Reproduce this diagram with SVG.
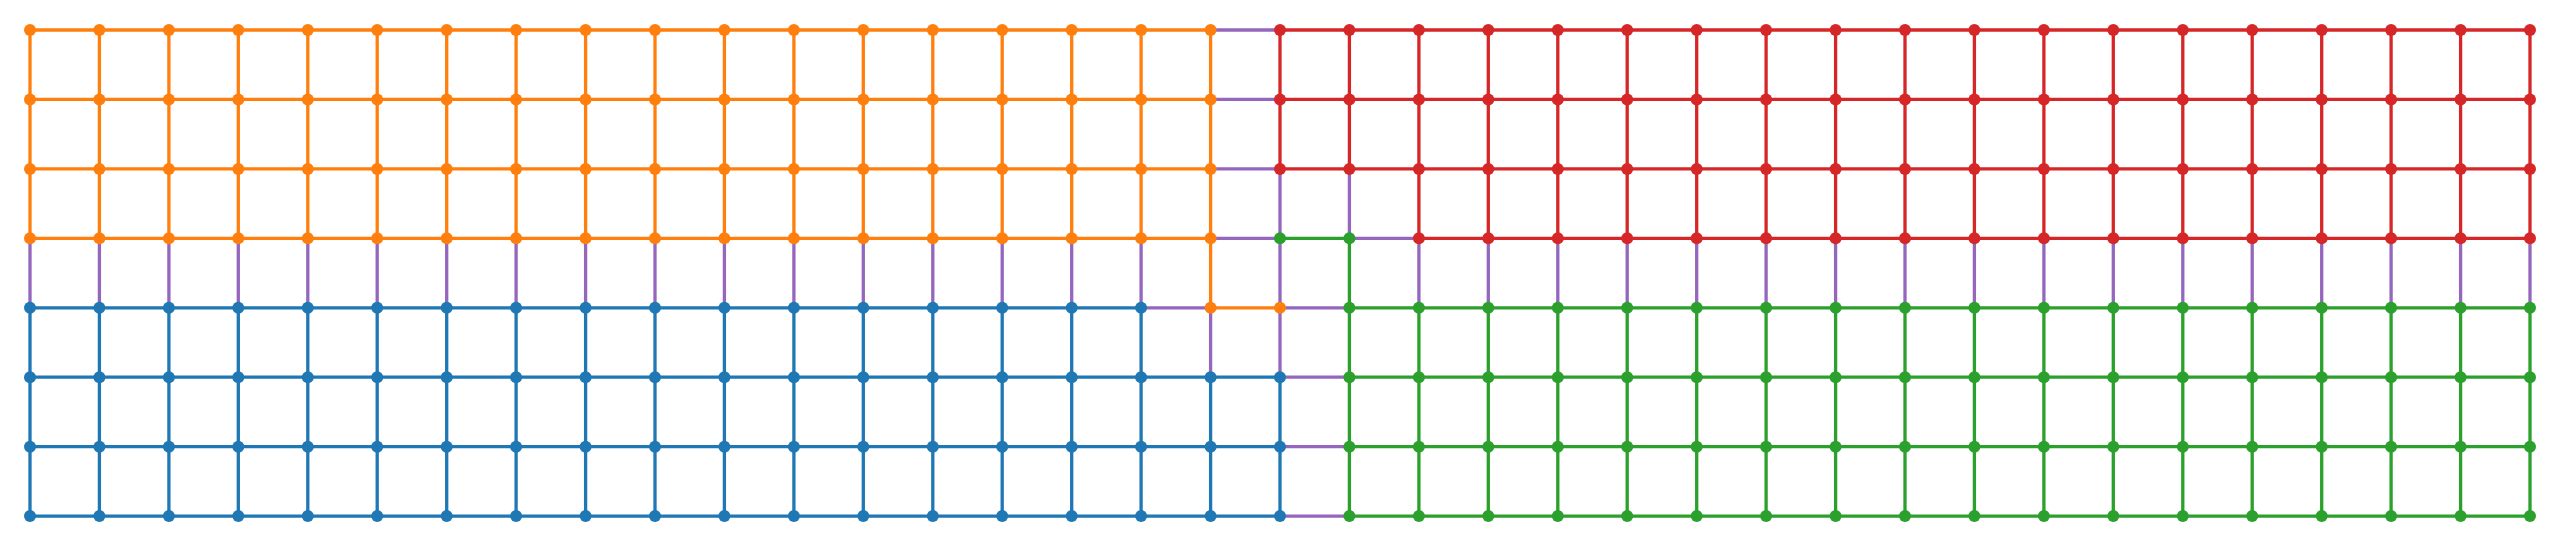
<svg xmlns="http://www.w3.org/2000/svg" width="2561" height="547" viewBox="0 0 2561 547">
<style>
.e{fill:none;stroke-width:3.3}
.eo{stroke:#ff7f0e}.er{stroke:#d62728}.eg{stroke:#2ca02c}.eb{stroke:#1f77b4}.ep{stroke:#9467bd}
.o{fill:#ff7f0e}.r{fill:#d62728}.g{fill:#2ca02c}.b{fill:#1f77b4}
</style>
<rect width="2561" height="547" fill="#fff"/>
<g id="connectors">
<path class="e ep" d="M1210.6 30H1280M1210.6 99.4H1280M1210.6 168.9H1280M1210.6 238.3H1280M1349.4 238.3H1418.9M1141.1 307.8H1210.6M1280 307.8H1349.4M1280 377.2H1349.4M1280 446.7H1349.4M1280 516.1H1349.4
M30 238.3V307.8M99.4 238.3V307.8M168.9 238.3V307.8M238.3 238.3V307.8M307.8 238.3V307.8M377.2 238.3V307.8M446.7 238.3V307.8M516.1 238.3V307.8M585.6 238.3V307.8M655 238.3V307.8M724.4 238.3V307.8M793.9 238.3V307.8M863.3 238.3V307.8M932.8 238.3V307.8M1002.2 238.3V307.8M1071.7 238.3V307.8M1141.1 238.3V307.8
M1210.6 307.8V377.2M1280 168.9V377.2M1349.4 168.9V238.3
M1418.9 238.3V307.8M1488.3 238.3V307.8M1557.8 238.3V307.8M1627.2 238.3V307.8M1696.7 238.3V307.8M1766.1 238.3V307.8M1835.6 238.3V307.8M1905 238.3V307.8M1974.4 238.3V307.8M2043.9 238.3V307.8M2113.3 238.3V307.8M2182.8 238.3V307.8M2252.2 238.3V307.8M2321.7 238.3V307.8M2391.1 238.3V307.8M2460.6 238.3V307.8M2530 238.3V307.8"/>
<path class="e eo" d="M30 30H1210.6M30 99.4H1210.6M30 168.9H1210.6M30 238.3H1210.6M1210.6 307.8H1280
M30 30V238.3M99.4 30V238.3M168.9 30V238.3M238.3 30V238.3M307.8 30V238.3M377.2 30V238.3M446.7 30V238.3M516.1 30V238.3M585.6 30V238.3M655 30V238.3M724.4 30V238.3M793.9 30V238.3M863.3 30V238.3M932.8 30V238.3M1002.2 30V238.3M1071.7 30V238.3M1141.1 30V238.3M1210.6 30V307.8"/>
<path class="e er" d="M1280 30H2530M1280 99.4H2530M1280 168.9H2530M1418.9 238.3H2530
M1280 30V168.9M1349.4 30V168.9M1418.9 30V238.3M1488.3 30V238.3M1557.8 30V238.3M1627.2 30V238.3M1696.7 30V238.3M1766.1 30V238.3M1835.6 30V238.3M1905 30V238.3M1974.4 30V238.3M2043.9 30V238.3M2113.3 30V238.3M2182.8 30V238.3M2252.2 30V238.3M2321.7 30V238.3M2391.1 30V238.3M2460.6 30V238.3M2530 30V238.3"/>
<path class="e eg" d="M1280 238.3H1349.4M1349.4 307.8H2530M1349.4 377.2H2530M1349.4 446.7H2530M1349.4 516.1H2530
M1349.4 238.3V516.1M1418.9 307.8V516.1M1488.3 307.8V516.1M1557.8 307.8V516.1M1627.2 307.8V516.1M1696.7 307.8V516.1M1766.1 307.8V516.1M1835.6 307.8V516.1M1905 307.8V516.1M1974.4 307.8V516.1M2043.9 307.8V516.1M2113.3 307.8V516.1M2182.8 307.8V516.1M2252.2 307.8V516.1M2321.7 307.8V516.1M2391.1 307.8V516.1M2460.6 307.8V516.1M2530 307.8V516.1"/>
<path class="e eb" d="M30 307.8H1141.1M30 377.2H1280M30 446.7H1280M30 516.1H1280
M30 307.8V516.1M99.4 307.8V516.1M168.9 307.8V516.1M238.3 307.8V516.1M307.8 307.8V516.1M377.2 307.8V516.1M446.7 307.8V516.1M516.1 307.8V516.1M585.6 307.8V516.1M655 307.8V516.1M724.4 307.8V516.1M793.9 307.8V516.1M863.3 307.8V516.1M932.8 307.8V516.1M1002.2 307.8V516.1M1071.7 307.8V516.1M1141.1 307.8V516.1M1210.6 377.2V516.1M1280 377.2V516.1"/>
</g>
<g id="nodes">
<g id="n0-0" class="o"><circle cx="30" cy="30" r="6"/></g>
<g id="n0-1" class="o"><circle cx="99.4" cy="30" r="6"/></g>
<g id="n0-2" class="o"><circle cx="168.9" cy="30" r="6"/></g>
<g id="n0-3" class="o"><circle cx="238.3" cy="30" r="6"/></g>
<g id="n0-4" class="o"><circle cx="307.8" cy="30" r="6"/></g>
<g id="n0-5" class="o"><circle cx="377.2" cy="30" r="6"/></g>
<g id="n0-6" class="o"><circle cx="446.7" cy="30" r="6"/></g>
<g id="n0-7" class="o"><circle cx="516.1" cy="30" r="6"/></g>
<g id="n0-8" class="o"><circle cx="585.6" cy="30" r="6"/></g>
<g id="n0-9" class="o"><circle cx="655" cy="30" r="6"/></g>
<g id="n0-10" class="o"><circle cx="724.4" cy="30" r="6"/></g>
<g id="n0-11" class="o"><circle cx="793.9" cy="30" r="6"/></g>
<g id="n0-12" class="o"><circle cx="863.3" cy="30" r="6"/></g>
<g id="n0-13" class="o"><circle cx="932.8" cy="30" r="6"/></g>
<g id="n0-14" class="o"><circle cx="1002.2" cy="30" r="6"/></g>
<g id="n0-15" class="o"><circle cx="1071.7" cy="30" r="6"/></g>
<g id="n0-16" class="o"><circle cx="1141.1" cy="30" r="6"/></g>
<g id="n0-17" class="o"><circle cx="1210.6" cy="30" r="6"/></g>
<g id="n0-18" class="r"><circle cx="1280" cy="30" r="6"/></g>
<g id="n0-19" class="r"><circle cx="1349.4" cy="30" r="6"/></g>
<g id="n0-20" class="r"><circle cx="1418.9" cy="30" r="6"/></g>
<g id="n0-21" class="r"><circle cx="1488.3" cy="30" r="6"/></g>
<g id="n0-22" class="r"><circle cx="1557.8" cy="30" r="6"/></g>
<g id="n0-23" class="r"><circle cx="1627.2" cy="30" r="6"/></g>
<g id="n0-24" class="r"><circle cx="1696.7" cy="30" r="6"/></g>
<g id="n0-25" class="r"><circle cx="1766.1" cy="30" r="6"/></g>
<g id="n0-26" class="r"><circle cx="1835.6" cy="30" r="6"/></g>
<g id="n0-27" class="r"><circle cx="1905" cy="30" r="6"/></g>
<g id="n0-28" class="r"><circle cx="1974.4" cy="30" r="6"/></g>
<g id="n0-29" class="r"><circle cx="2043.9" cy="30" r="6"/></g>
<g id="n0-30" class="r"><circle cx="2113.3" cy="30" r="6"/></g>
<g id="n0-31" class="r"><circle cx="2182.8" cy="30" r="6"/></g>
<g id="n0-32" class="r"><circle cx="2252.2" cy="30" r="6"/></g>
<g id="n0-33" class="r"><circle cx="2321.7" cy="30" r="6"/></g>
<g id="n0-34" class="r"><circle cx="2391.1" cy="30" r="6"/></g>
<g id="n0-35" class="r"><circle cx="2460.6" cy="30" r="6"/></g>
<g id="n0-36" class="r"><circle cx="2530" cy="30" r="6"/></g>
<g id="n1-0" class="o"><circle cx="30" cy="99.4" r="6"/></g>
<g id="n1-1" class="o"><circle cx="99.4" cy="99.4" r="6"/></g>
<g id="n1-2" class="o"><circle cx="168.9" cy="99.4" r="6"/></g>
<g id="n1-3" class="o"><circle cx="238.3" cy="99.4" r="6"/></g>
<g id="n1-4" class="o"><circle cx="307.8" cy="99.4" r="6"/></g>
<g id="n1-5" class="o"><circle cx="377.2" cy="99.4" r="6"/></g>
<g id="n1-6" class="o"><circle cx="446.7" cy="99.4" r="6"/></g>
<g id="n1-7" class="o"><circle cx="516.1" cy="99.4" r="6"/></g>
<g id="n1-8" class="o"><circle cx="585.6" cy="99.4" r="6"/></g>
<g id="n1-9" class="o"><circle cx="655" cy="99.4" r="6"/></g>
<g id="n1-10" class="o"><circle cx="724.4" cy="99.4" r="6"/></g>
<g id="n1-11" class="o"><circle cx="793.9" cy="99.4" r="6"/></g>
<g id="n1-12" class="o"><circle cx="863.3" cy="99.4" r="6"/></g>
<g id="n1-13" class="o"><circle cx="932.8" cy="99.4" r="6"/></g>
<g id="n1-14" class="o"><circle cx="1002.2" cy="99.4" r="6"/></g>
<g id="n1-15" class="o"><circle cx="1071.7" cy="99.4" r="6"/></g>
<g id="n1-16" class="o"><circle cx="1141.1" cy="99.4" r="6"/></g>
<g id="n1-17" class="o"><circle cx="1210.6" cy="99.4" r="6"/></g>
<g id="n1-18" class="r"><circle cx="1280" cy="99.4" r="6"/></g>
<g id="n1-19" class="r"><circle cx="1349.4" cy="99.4" r="6"/></g>
<g id="n1-20" class="r"><circle cx="1418.9" cy="99.4" r="6"/></g>
<g id="n1-21" class="r"><circle cx="1488.3" cy="99.4" r="6"/></g>
<g id="n1-22" class="r"><circle cx="1557.8" cy="99.4" r="6"/></g>
<g id="n1-23" class="r"><circle cx="1627.2" cy="99.4" r="6"/></g>
<g id="n1-24" class="r"><circle cx="1696.7" cy="99.4" r="6"/></g>
<g id="n1-25" class="r"><circle cx="1766.1" cy="99.4" r="6"/></g>
<g id="n1-26" class="r"><circle cx="1835.6" cy="99.4" r="6"/></g>
<g id="n1-27" class="r"><circle cx="1905" cy="99.4" r="6"/></g>
<g id="n1-28" class="r"><circle cx="1974.4" cy="99.4" r="6"/></g>
<g id="n1-29" class="r"><circle cx="2043.9" cy="99.4" r="6"/></g>
<g id="n1-30" class="r"><circle cx="2113.3" cy="99.4" r="6"/></g>
<g id="n1-31" class="r"><circle cx="2182.8" cy="99.4" r="6"/></g>
<g id="n1-32" class="r"><circle cx="2252.2" cy="99.4" r="6"/></g>
<g id="n1-33" class="r"><circle cx="2321.7" cy="99.4" r="6"/></g>
<g id="n1-34" class="r"><circle cx="2391.1" cy="99.4" r="6"/></g>
<g id="n1-35" class="r"><circle cx="2460.6" cy="99.4" r="6"/></g>
<g id="n1-36" class="r"><circle cx="2530" cy="99.4" r="6"/></g>
<g id="n2-0" class="o"><circle cx="30" cy="168.9" r="6"/></g>
<g id="n2-1" class="o"><circle cx="99.4" cy="168.9" r="6"/></g>
<g id="n2-2" class="o"><circle cx="168.9" cy="168.9" r="6"/></g>
<g id="n2-3" class="o"><circle cx="238.3" cy="168.9" r="6"/></g>
<g id="n2-4" class="o"><circle cx="307.8" cy="168.9" r="6"/></g>
<g id="n2-5" class="o"><circle cx="377.2" cy="168.9" r="6"/></g>
<g id="n2-6" class="o"><circle cx="446.7" cy="168.9" r="6"/></g>
<g id="n2-7" class="o"><circle cx="516.1" cy="168.9" r="6"/></g>
<g id="n2-8" class="o"><circle cx="585.6" cy="168.9" r="6"/></g>
<g id="n2-9" class="o"><circle cx="655" cy="168.9" r="6"/></g>
<g id="n2-10" class="o"><circle cx="724.4" cy="168.9" r="6"/></g>
<g id="n2-11" class="o"><circle cx="793.9" cy="168.9" r="6"/></g>
<g id="n2-12" class="o"><circle cx="863.3" cy="168.9" r="6"/></g>
<g id="n2-13" class="o"><circle cx="932.8" cy="168.9" r="6"/></g>
<g id="n2-14" class="o"><circle cx="1002.2" cy="168.9" r="6"/></g>
<g id="n2-15" class="o"><circle cx="1071.7" cy="168.9" r="6"/></g>
<g id="n2-16" class="o"><circle cx="1141.1" cy="168.9" r="6"/></g>
<g id="n2-17" class="o"><circle cx="1210.6" cy="168.9" r="6"/></g>
<g id="n2-18" class="r"><circle cx="1280" cy="168.9" r="6"/></g>
<g id="n2-19" class="r"><circle cx="1349.4" cy="168.9" r="6"/></g>
<g id="n2-20" class="r"><circle cx="1418.9" cy="168.9" r="6"/></g>
<g id="n2-21" class="r"><circle cx="1488.3" cy="168.9" r="6"/></g>
<g id="n2-22" class="r"><circle cx="1557.8" cy="168.9" r="6"/></g>
<g id="n2-23" class="r"><circle cx="1627.2" cy="168.9" r="6"/></g>
<g id="n2-24" class="r"><circle cx="1696.7" cy="168.9" r="6"/></g>
<g id="n2-25" class="r"><circle cx="1766.1" cy="168.9" r="6"/></g>
<g id="n2-26" class="r"><circle cx="1835.6" cy="168.9" r="6"/></g>
<g id="n2-27" class="r"><circle cx="1905" cy="168.9" r="6"/></g>
<g id="n2-28" class="r"><circle cx="1974.4" cy="168.9" r="6"/></g>
<g id="n2-29" class="r"><circle cx="2043.9" cy="168.9" r="6"/></g>
<g id="n2-30" class="r"><circle cx="2113.3" cy="168.9" r="6"/></g>
<g id="n2-31" class="r"><circle cx="2182.8" cy="168.9" r="6"/></g>
<g id="n2-32" class="r"><circle cx="2252.2" cy="168.9" r="6"/></g>
<g id="n2-33" class="r"><circle cx="2321.7" cy="168.9" r="6"/></g>
<g id="n2-34" class="r"><circle cx="2391.1" cy="168.9" r="6"/></g>
<g id="n2-35" class="r"><circle cx="2460.6" cy="168.9" r="6"/></g>
<g id="n2-36" class="r"><circle cx="2530" cy="168.9" r="6"/></g>
<g id="n3-0" class="o"><circle cx="30" cy="238.3" r="6"/></g>
<g id="n3-1" class="o"><circle cx="99.4" cy="238.3" r="6"/></g>
<g id="n3-2" class="o"><circle cx="168.9" cy="238.3" r="6"/></g>
<g id="n3-3" class="o"><circle cx="238.3" cy="238.3" r="6"/></g>
<g id="n3-4" class="o"><circle cx="307.8" cy="238.3" r="6"/></g>
<g id="n3-5" class="o"><circle cx="377.2" cy="238.3" r="6"/></g>
<g id="n3-6" class="o"><circle cx="446.7" cy="238.3" r="6"/></g>
<g id="n3-7" class="o"><circle cx="516.1" cy="238.3" r="6"/></g>
<g id="n3-8" class="o"><circle cx="585.6" cy="238.3" r="6"/></g>
<g id="n3-9" class="o"><circle cx="655" cy="238.3" r="6"/></g>
<g id="n3-10" class="o"><circle cx="724.4" cy="238.3" r="6"/></g>
<g id="n3-11" class="o"><circle cx="793.9" cy="238.3" r="6"/></g>
<g id="n3-12" class="o"><circle cx="863.3" cy="238.3" r="6"/></g>
<g id="n3-13" class="o"><circle cx="932.8" cy="238.3" r="6"/></g>
<g id="n3-14" class="o"><circle cx="1002.2" cy="238.3" r="6"/></g>
<g id="n3-15" class="o"><circle cx="1071.7" cy="238.3" r="6"/></g>
<g id="n3-16" class="o"><circle cx="1141.1" cy="238.3" r="6"/></g>
<g id="n3-17" class="o"><circle cx="1210.6" cy="238.3" r="6"/></g>
<g id="n3-18" class="g"><circle cx="1280" cy="238.3" r="6"/></g>
<g id="n3-19" class="g"><circle cx="1349.4" cy="238.3" r="6"/></g>
<g id="n3-20" class="r"><circle cx="1418.9" cy="238.3" r="6"/></g>
<g id="n3-21" class="r"><circle cx="1488.3" cy="238.3" r="6"/></g>
<g id="n3-22" class="r"><circle cx="1557.8" cy="238.3" r="6"/></g>
<g id="n3-23" class="r"><circle cx="1627.2" cy="238.3" r="6"/></g>
<g id="n3-24" class="r"><circle cx="1696.7" cy="238.3" r="6"/></g>
<g id="n3-25" class="r"><circle cx="1766.1" cy="238.3" r="6"/></g>
<g id="n3-26" class="r"><circle cx="1835.6" cy="238.3" r="6"/></g>
<g id="n3-27" class="r"><circle cx="1905" cy="238.3" r="6"/></g>
<g id="n3-28" class="r"><circle cx="1974.4" cy="238.3" r="6"/></g>
<g id="n3-29" class="r"><circle cx="2043.9" cy="238.3" r="6"/></g>
<g id="n3-30" class="r"><circle cx="2113.3" cy="238.3" r="6"/></g>
<g id="n3-31" class="r"><circle cx="2182.8" cy="238.3" r="6"/></g>
<g id="n3-32" class="r"><circle cx="2252.2" cy="238.3" r="6"/></g>
<g id="n3-33" class="r"><circle cx="2321.7" cy="238.3" r="6"/></g>
<g id="n3-34" class="r"><circle cx="2391.1" cy="238.3" r="6"/></g>
<g id="n3-35" class="r"><circle cx="2460.6" cy="238.3" r="6"/></g>
<g id="n3-36" class="r"><circle cx="2530" cy="238.3" r="6"/></g>
<g id="n4-0" class="b"><circle cx="30" cy="307.8" r="6"/></g>
<g id="n4-1" class="b"><circle cx="99.4" cy="307.8" r="6"/></g>
<g id="n4-2" class="b"><circle cx="168.9" cy="307.8" r="6"/></g>
<g id="n4-3" class="b"><circle cx="238.3" cy="307.8" r="6"/></g>
<g id="n4-4" class="b"><circle cx="307.8" cy="307.8" r="6"/></g>
<g id="n4-5" class="b"><circle cx="377.2" cy="307.8" r="6"/></g>
<g id="n4-6" class="b"><circle cx="446.7" cy="307.8" r="6"/></g>
<g id="n4-7" class="b"><circle cx="516.1" cy="307.8" r="6"/></g>
<g id="n4-8" class="b"><circle cx="585.6" cy="307.8" r="6"/></g>
<g id="n4-9" class="b"><circle cx="655" cy="307.8" r="6"/></g>
<g id="n4-10" class="b"><circle cx="724.4" cy="307.8" r="6"/></g>
<g id="n4-11" class="b"><circle cx="793.9" cy="307.8" r="6"/></g>
<g id="n4-12" class="b"><circle cx="863.3" cy="307.8" r="6"/></g>
<g id="n4-13" class="b"><circle cx="932.8" cy="307.8" r="6"/></g>
<g id="n4-14" class="b"><circle cx="1002.2" cy="307.8" r="6"/></g>
<g id="n4-15" class="b"><circle cx="1071.7" cy="307.8" r="6"/></g>
<g id="n4-16" class="b"><circle cx="1141.1" cy="307.8" r="6"/></g>
<g id="n4-17" class="o"><circle cx="1210.6" cy="307.8" r="6"/></g>
<g id="n4-18" class="o"><circle cx="1280" cy="307.8" r="6"/></g>
<g id="n4-19" class="g"><circle cx="1349.4" cy="307.8" r="6"/></g>
<g id="n4-20" class="g"><circle cx="1418.9" cy="307.8" r="6"/></g>
<g id="n4-21" class="g"><circle cx="1488.3" cy="307.8" r="6"/></g>
<g id="n4-22" class="g"><circle cx="1557.8" cy="307.8" r="6"/></g>
<g id="n4-23" class="g"><circle cx="1627.2" cy="307.8" r="6"/></g>
<g id="n4-24" class="g"><circle cx="1696.7" cy="307.8" r="6"/></g>
<g id="n4-25" class="g"><circle cx="1766.1" cy="307.8" r="6"/></g>
<g id="n4-26" class="g"><circle cx="1835.6" cy="307.8" r="6"/></g>
<g id="n4-27" class="g"><circle cx="1905" cy="307.8" r="6"/></g>
<g id="n4-28" class="g"><circle cx="1974.4" cy="307.8" r="6"/></g>
<g id="n4-29" class="g"><circle cx="2043.9" cy="307.8" r="6"/></g>
<g id="n4-30" class="g"><circle cx="2113.3" cy="307.8" r="6"/></g>
<g id="n4-31" class="g"><circle cx="2182.8" cy="307.8" r="6"/></g>
<g id="n4-32" class="g"><circle cx="2252.2" cy="307.8" r="6"/></g>
<g id="n4-33" class="g"><circle cx="2321.7" cy="307.8" r="6"/></g>
<g id="n4-34" class="g"><circle cx="2391.1" cy="307.8" r="6"/></g>
<g id="n4-35" class="g"><circle cx="2460.6" cy="307.8" r="6"/></g>
<g id="n4-36" class="g"><circle cx="2530" cy="307.8" r="6"/></g>
<g id="n5-0" class="b"><circle cx="30" cy="377.2" r="6"/></g>
<g id="n5-1" class="b"><circle cx="99.4" cy="377.2" r="6"/></g>
<g id="n5-2" class="b"><circle cx="168.9" cy="377.2" r="6"/></g>
<g id="n5-3" class="b"><circle cx="238.3" cy="377.2" r="6"/></g>
<g id="n5-4" class="b"><circle cx="307.8" cy="377.2" r="6"/></g>
<g id="n5-5" class="b"><circle cx="377.2" cy="377.2" r="6"/></g>
<g id="n5-6" class="b"><circle cx="446.7" cy="377.2" r="6"/></g>
<g id="n5-7" class="b"><circle cx="516.1" cy="377.2" r="6"/></g>
<g id="n5-8" class="b"><circle cx="585.6" cy="377.2" r="6"/></g>
<g id="n5-9" class="b"><circle cx="655" cy="377.2" r="6"/></g>
<g id="n5-10" class="b"><circle cx="724.4" cy="377.2" r="6"/></g>
<g id="n5-11" class="b"><circle cx="793.9" cy="377.2" r="6"/></g>
<g id="n5-12" class="b"><circle cx="863.3" cy="377.2" r="6"/></g>
<g id="n5-13" class="b"><circle cx="932.8" cy="377.2" r="6"/></g>
<g id="n5-14" class="b"><circle cx="1002.2" cy="377.2" r="6"/></g>
<g id="n5-15" class="b"><circle cx="1071.7" cy="377.2" r="6"/></g>
<g id="n5-16" class="b"><circle cx="1141.1" cy="377.2" r="6"/></g>
<g id="n5-17" class="b"><circle cx="1210.6" cy="377.2" r="6"/></g>
<g id="n5-18" class="b"><circle cx="1280" cy="377.2" r="6"/></g>
<g id="n5-19" class="g"><circle cx="1349.4" cy="377.2" r="6"/></g>
<g id="n5-20" class="g"><circle cx="1418.9" cy="377.2" r="6"/></g>
<g id="n5-21" class="g"><circle cx="1488.3" cy="377.2" r="6"/></g>
<g id="n5-22" class="g"><circle cx="1557.8" cy="377.2" r="6"/></g>
<g id="n5-23" class="g"><circle cx="1627.2" cy="377.2" r="6"/></g>
<g id="n5-24" class="g"><circle cx="1696.7" cy="377.2" r="6"/></g>
<g id="n5-25" class="g"><circle cx="1766.1" cy="377.2" r="6"/></g>
<g id="n5-26" class="g"><circle cx="1835.6" cy="377.2" r="6"/></g>
<g id="n5-27" class="g"><circle cx="1905" cy="377.2" r="6"/></g>
<g id="n5-28" class="g"><circle cx="1974.4" cy="377.2" r="6"/></g>
<g id="n5-29" class="g"><circle cx="2043.9" cy="377.2" r="6"/></g>
<g id="n5-30" class="g"><circle cx="2113.3" cy="377.2" r="6"/></g>
<g id="n5-31" class="g"><circle cx="2182.8" cy="377.2" r="6"/></g>
<g id="n5-32" class="g"><circle cx="2252.2" cy="377.2" r="6"/></g>
<g id="n5-33" class="g"><circle cx="2321.7" cy="377.2" r="6"/></g>
<g id="n5-34" class="g"><circle cx="2391.1" cy="377.2" r="6"/></g>
<g id="n5-35" class="g"><circle cx="2460.6" cy="377.2" r="6"/></g>
<g id="n5-36" class="g"><circle cx="2530" cy="377.2" r="6"/></g>
<g id="n6-0" class="b"><circle cx="30" cy="446.7" r="6"/></g>
<g id="n6-1" class="b"><circle cx="99.4" cy="446.7" r="6"/></g>
<g id="n6-2" class="b"><circle cx="168.9" cy="446.7" r="6"/></g>
<g id="n6-3" class="b"><circle cx="238.3" cy="446.7" r="6"/></g>
<g id="n6-4" class="b"><circle cx="307.8" cy="446.7" r="6"/></g>
<g id="n6-5" class="b"><circle cx="377.2" cy="446.7" r="6"/></g>
<g id="n6-6" class="b"><circle cx="446.7" cy="446.7" r="6"/></g>
<g id="n6-7" class="b"><circle cx="516.1" cy="446.7" r="6"/></g>
<g id="n6-8" class="b"><circle cx="585.6" cy="446.7" r="6"/></g>
<g id="n6-9" class="b"><circle cx="655" cy="446.7" r="6"/></g>
<g id="n6-10" class="b"><circle cx="724.4" cy="446.7" r="6"/></g>
<g id="n6-11" class="b"><circle cx="793.9" cy="446.7" r="6"/></g>
<g id="n6-12" class="b"><circle cx="863.3" cy="446.7" r="6"/></g>
<g id="n6-13" class="b"><circle cx="932.8" cy="446.7" r="6"/></g>
<g id="n6-14" class="b"><circle cx="1002.2" cy="446.7" r="6"/></g>
<g id="n6-15" class="b"><circle cx="1071.7" cy="446.7" r="6"/></g>
<g id="n6-16" class="b"><circle cx="1141.1" cy="446.7" r="6"/></g>
<g id="n6-17" class="b"><circle cx="1210.6" cy="446.7" r="6"/></g>
<g id="n6-18" class="b"><circle cx="1280" cy="446.7" r="6"/></g>
<g id="n6-19" class="g"><circle cx="1349.4" cy="446.7" r="6"/></g>
<g id="n6-20" class="g"><circle cx="1418.9" cy="446.7" r="6"/></g>
<g id="n6-21" class="g"><circle cx="1488.3" cy="446.7" r="6"/></g>
<g id="n6-22" class="g"><circle cx="1557.8" cy="446.7" r="6"/></g>
<g id="n6-23" class="g"><circle cx="1627.2" cy="446.7" r="6"/></g>
<g id="n6-24" class="g"><circle cx="1696.7" cy="446.7" r="6"/></g>
<g id="n6-25" class="g"><circle cx="1766.1" cy="446.7" r="6"/></g>
<g id="n6-26" class="g"><circle cx="1835.6" cy="446.7" r="6"/></g>
<g id="n6-27" class="g"><circle cx="1905" cy="446.7" r="6"/></g>
<g id="n6-28" class="g"><circle cx="1974.4" cy="446.7" r="6"/></g>
<g id="n6-29" class="g"><circle cx="2043.9" cy="446.7" r="6"/></g>
<g id="n6-30" class="g"><circle cx="2113.3" cy="446.7" r="6"/></g>
<g id="n6-31" class="g"><circle cx="2182.8" cy="446.7" r="6"/></g>
<g id="n6-32" class="g"><circle cx="2252.2" cy="446.7" r="6"/></g>
<g id="n6-33" class="g"><circle cx="2321.7" cy="446.7" r="6"/></g>
<g id="n6-34" class="g"><circle cx="2391.1" cy="446.7" r="6"/></g>
<g id="n6-35" class="g"><circle cx="2460.6" cy="446.7" r="6"/></g>
<g id="n6-36" class="g"><circle cx="2530" cy="446.7" r="6"/></g>
<g id="n7-0" class="b"><circle cx="30" cy="516.1" r="6"/></g>
<g id="n7-1" class="b"><circle cx="99.4" cy="516.1" r="6"/></g>
<g id="n7-2" class="b"><circle cx="168.9" cy="516.1" r="6"/></g>
<g id="n7-3" class="b"><circle cx="238.3" cy="516.1" r="6"/></g>
<g id="n7-4" class="b"><circle cx="307.8" cy="516.1" r="6"/></g>
<g id="n7-5" class="b"><circle cx="377.2" cy="516.1" r="6"/></g>
<g id="n7-6" class="b"><circle cx="446.7" cy="516.1" r="6"/></g>
<g id="n7-7" class="b"><circle cx="516.1" cy="516.1" r="6"/></g>
<g id="n7-8" class="b"><circle cx="585.6" cy="516.1" r="6"/></g>
<g id="n7-9" class="b"><circle cx="655" cy="516.1" r="6"/></g>
<g id="n7-10" class="b"><circle cx="724.4" cy="516.1" r="6"/></g>
<g id="n7-11" class="b"><circle cx="793.9" cy="516.1" r="6"/></g>
<g id="n7-12" class="b"><circle cx="863.3" cy="516.1" r="6"/></g>
<g id="n7-13" class="b"><circle cx="932.8" cy="516.1" r="6"/></g>
<g id="n7-14" class="b"><circle cx="1002.2" cy="516.1" r="6"/></g>
<g id="n7-15" class="b"><circle cx="1071.7" cy="516.1" r="6"/></g>
<g id="n7-16" class="b"><circle cx="1141.1" cy="516.1" r="6"/></g>
<g id="n7-17" class="b"><circle cx="1210.6" cy="516.1" r="6"/></g>
<g id="n7-18" class="b"><circle cx="1280" cy="516.1" r="6"/></g>
<g id="n7-19" class="g"><circle cx="1349.4" cy="516.1" r="6"/></g>
<g id="n7-20" class="g"><circle cx="1418.9" cy="516.1" r="6"/></g>
<g id="n7-21" class="g"><circle cx="1488.3" cy="516.1" r="6"/></g>
<g id="n7-22" class="g"><circle cx="1557.8" cy="516.1" r="6"/></g>
<g id="n7-23" class="g"><circle cx="1627.2" cy="516.1" r="6"/></g>
<g id="n7-24" class="g"><circle cx="1696.7" cy="516.1" r="6"/></g>
<g id="n7-25" class="g"><circle cx="1766.1" cy="516.1" r="6"/></g>
<g id="n7-26" class="g"><circle cx="1835.6" cy="516.1" r="6"/></g>
<g id="n7-27" class="g"><circle cx="1905" cy="516.1" r="6"/></g>
<g id="n7-28" class="g"><circle cx="1974.4" cy="516.1" r="6"/></g>
<g id="n7-29" class="g"><circle cx="2043.9" cy="516.1" r="6"/></g>
<g id="n7-30" class="g"><circle cx="2113.3" cy="516.1" r="6"/></g>
<g id="n7-31" class="g"><circle cx="2182.8" cy="516.1" r="6"/></g>
<g id="n7-32" class="g"><circle cx="2252.2" cy="516.1" r="6"/></g>
<g id="n7-33" class="g"><circle cx="2321.7" cy="516.1" r="6"/></g>
<g id="n7-34" class="g"><circle cx="2391.1" cy="516.1" r="6"/></g>
<g id="n7-35" class="g"><circle cx="2460.6" cy="516.1" r="6"/></g>
<g id="n7-36" class="g"><circle cx="2530" cy="516.1" r="6"/></g>
</g>
</svg>
